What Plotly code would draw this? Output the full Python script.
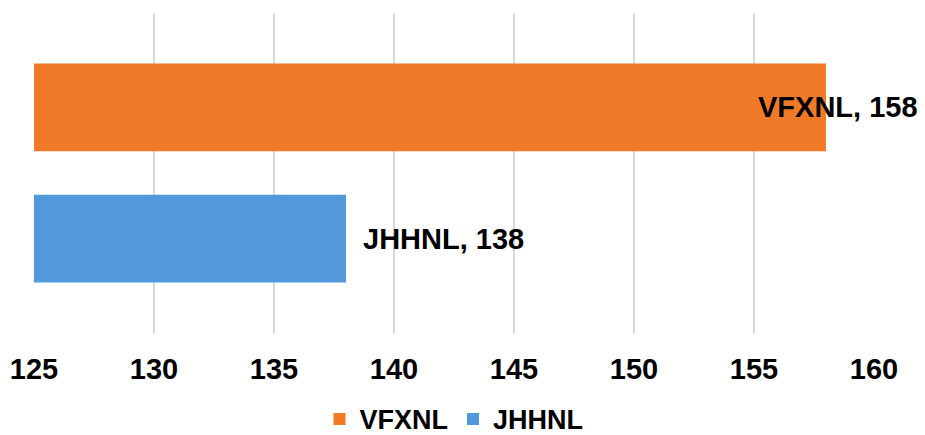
import plotly.graph_objects as go

# Data
series = ["JHHNL", "VFXNL"]
values = [138, 158]
colors = ["#5199DA", "#F07A28"]
category = ["Total"]
tick_vals = [125, 130, 135, 140, 145, 150, 155, 160]

FONT = "Arial, Liberation Sans, sans-serif"
BARGAP = 0.18
GROUPGAP = 0.33

fig = go.Figure()
for name, val, col in zip(series, values, colors):
    fig.add_trace(go.Bar(
        y=category, x=[val], name=name, orientation="h",
        marker=dict(color=col, line=dict(width=0)),
    ))

# data labels, placed at the centre of each grouped bar
slot = (1 - BARGAP) / len(series)
shifts = [15, -70]
for i, (name, val) in enumerate(zip(series, values)):
    yc = -0.5 * (1 - BARGAP) + slot * (i + 0.5)
    fig.add_annotation(
        x=val, y=yc, xref="x", yref="y", text=f"{name}, {val}",
        showarrow=False, xanchor="left", yanchor="middle", xshift=shifts[i],
        font=dict(family=FONT, size=29, color="black", weight="bold"),
    )

fig.update_layout(
    width=917, height=427,
    margin=dict(l=26, r=51, t=5, b=102, autoexpand=False),
    paper_bgcolor="white", plot_bgcolor="white",
    barmode="group", bargap=BARGAP, bargroupgap=GROUPGAP,
    showlegend=True,
    legend=dict(orientation="h", x=0.5, xanchor="center", y=-0.27, yanchor="middle",
                traceorder="reversed",
                font=dict(family=FONT, size=27, color="black", weight="bold")),
    xaxis=dict(range=[125, 160], tickvals=tick_vals, showgrid=True, automargin=False,
               gridcolor="#D9D9D9", gridwidth=1.5, zeroline=False, showline=False,
               ticks="outside", ticklen=10, tickcolor="rgba(0,0,0,0)",
               tickfont=dict(family=FONT, size=29, color="black", weight="bold")),
    yaxis=dict(showticklabels=False, showgrid=False, zeroline=False, automargin=False,
               range=[-0.5, 0.5]),
)

fig.write_html("out.html")
